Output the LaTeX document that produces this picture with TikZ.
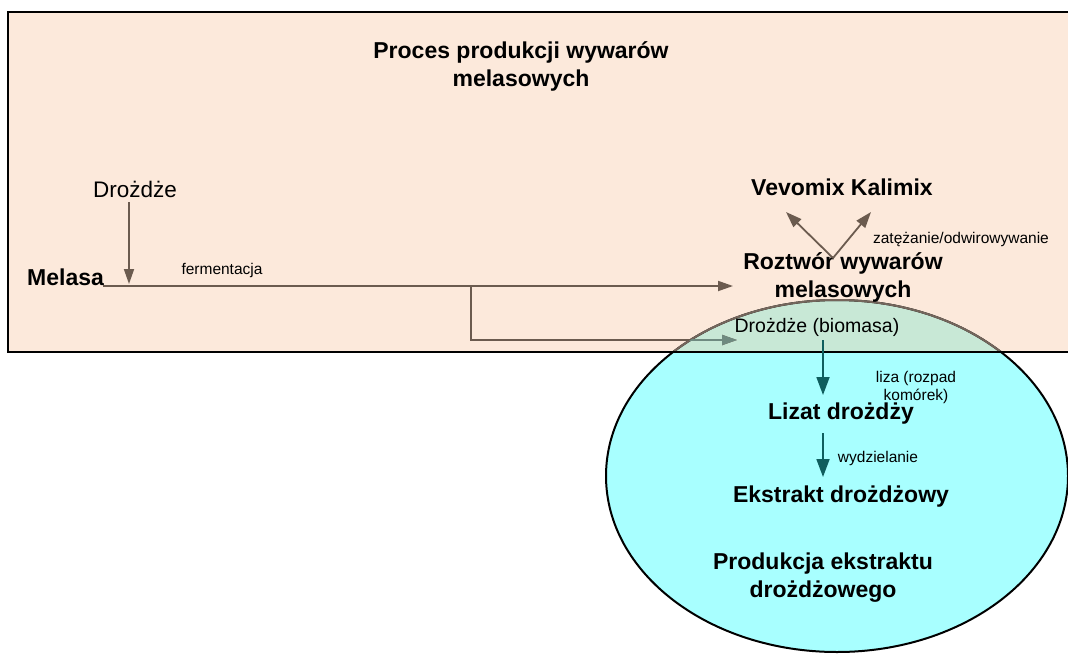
\documentclass[tikz,border=0pt]{standalone}
\usepackage{fontspec}
\setmainfont{Liberation Sans}
\usetikzlibrary{arrows.meta}
\definecolor{peach}{HTML}{FCE9DB}
\definecolor{cyanfill}{HTML}{A8FFFF}
\definecolor{overlapfill}{HTML}{C8E8D6}
\definecolor{brownline}{HTML}{6B5B4F}
\definecolor{ellbrown}{HTML}{74665C}
\definecolor{tealline}{HTML}{0F5E5E}
\definecolor{overlaparrow}{HTML}{6F8A80}
\begin{document}
\begin{tikzpicture}[x=1pt,y=-1pt,
  big/.style={font=\fontsize{23}{28}\selectfont\bfseries, inner sep=0pt, align=center},
  mid/.style={font=\fontsize{22.5}{27}\selectfont, inner sep=0pt},
  biofont/.style={font=\fontsize{19.5}{24}\selectfont, inner sep=0pt},
  small/.style={font=\fontsize{15.5}{18}\selectfont, inner sep=0pt, align=center},
  barrow/.style={draw=brownline, line width=1.8pt, -{Triangle[length=15pt,width=10pt]}},
  tarrow/.style={draw=tealline, line width=1.8pt, -{Triangle[length=18pt,width=13pt]}}]
\useasboundingbox (0,0) rectangle (1068,654);
% background rectangle
\fill[peach] (8,12) rectangle (1080,352);
% ellipse
\fill[cyanfill] (837,476) ellipse [x radius=231, y radius=176];
\begin{scope}
  \clip (8,12) rectangle (1080,352);
  \fill[overlapfill] (837,476) ellipse [x radius=231, y radius=176];
\end{scope}
\draw[black, line width=2pt] (837,476) ellipse [x radius=231, y radius=176];
\begin{scope}
  \clip (8,12) rectangle (1080,351);
  \draw[ellbrown, line width=2pt] (837,476) ellipse [x radius=231, y radius=176];
\end{scope}
\draw[black, line width=2.5pt] (1080,12) -- (8,12) -- (8,352) -- (1080,352);

% nodes
\node[big] (title) at (521,66) {Proces produkcji wywarów\\melasowych};
\node[mid] (dro) at (135,189) {Drożdże};
\node[big, anchor=west] (mel) at (27,277) {Melasa};
\node[small] (ferm) at (222,270) {fermentacja};
\node[big] (roz) at (843,277) {Roztwór wywarów\\melasowych};
\node[big] (vev) at (842,187) {Vevomix Kalimix};
\node[small] (zat) at (961,239) {zatężanie/odwirowywanie};
\node[biofont] (bio) at (817,327) {Drożdże (biomasa)};
\node[big] (liz) at (841,414) {Lizat drożdży};
\node[small] (liza) at (916,387) {liza (rozpad\\komórek)};
\node[small] (wyd) at (878,458) {wydzielanie};
\node[big] (ekst) at (841,497) {Ekstrakt drożdżowy};
\node[big] (prod) at (823,578) {Produkcja ekstraktu\\drożdżowego};

% connector points
\coordinate (droS) at (129,202);
\coordinate (droE) at (129,284);
\coordinate (melE) at (103,286);
\coordinate (rozW) at (733,286);
\coordinate (split) at (471,286);
\coordinate (bend) at (471,340);
\coordinate (bioW) at (737,340);
\coordinate (rozN) at (833,258);
\coordinate (vevL) at (786,212);
\coordinate (vevR) at (871,212);
\coordinate (bioS) at (823,340);
\coordinate (lizN) at (823,395);
\coordinate (lizS) at (823,433);
\coordinate (ekstN) at (823,477);

% connectors
\draw[barrow] (droS) -- (droE);
\draw[barrow] (melE) -- (rozW);
\draw[barrow] (split) -- (bend) -- (bioW);
\begin{scope}
  \clip (837,476) ellipse [x radius=231, y radius=176];
  \draw[draw=overlaparrow, line width=1.8pt, -{Triangle[length=15pt,width=10pt]}] (split) -- (bend) -- (bioW);
\end{scope}
\draw[barrow, -{Triangle[length=16pt,width=11pt]}] (rozN) -- (vevL);
\draw[barrow, -{Triangle[length=16pt,width=11pt]}] (rozN) -- (vevR);
\draw[tarrow] (bioS) -- (lizN);
\draw[tarrow] (lizS) -- (ekstN);
\end{tikzpicture}
\end{document}
